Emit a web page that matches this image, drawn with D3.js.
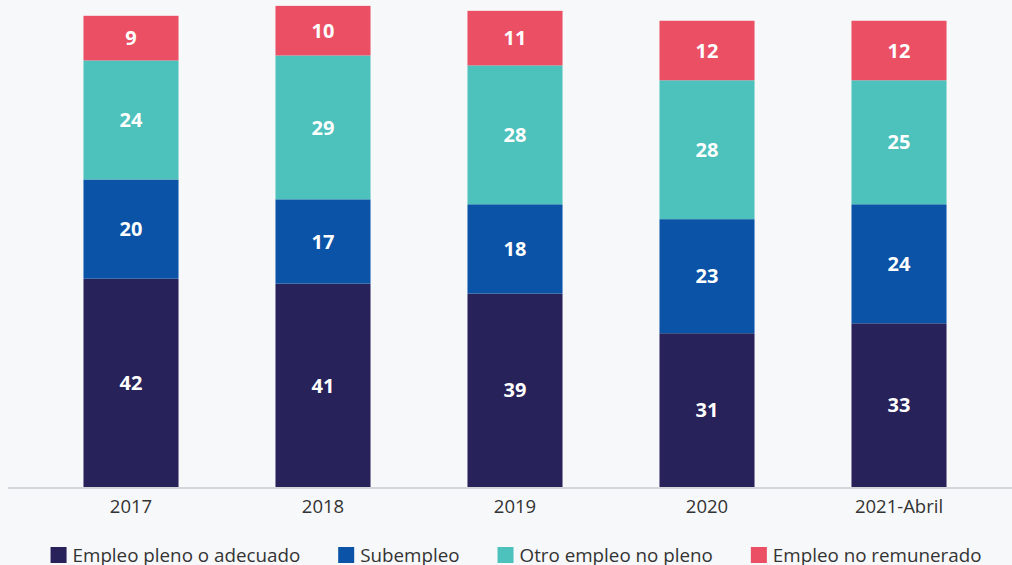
<!DOCTYPE html>
<html>
<head>
<meta charset="utf-8">
<script src="https://cdn.jsdelivr.net/npm/d3@7"></script>
<style>
  html, body { margin: 0; padding: 0; background: #f7f8fa; }
  svg { display: block; font-family: "Open Sans", "Noto Sans", sans-serif; }
</style>
</head>
<body>
<div id="chart"></div>
<script>
const categories = ["2017", "2018", "2019", "2020", "2021-Abril"];
const seriesNames = ["Empleo pleno o adecuado", "Subempleo", "Otro empleo no pleno", "Empleo no remunerado"];
const pleno = [42, 41, 39, 31, 33];
const subempleo = [20, 17, 18, 23, 24];
const otro = [24, 29, 28, 28, 25];
const noRemunerado = [9, 10, 11, 12, 12];
const colors = ["#27225a", "#0b53a6", "#4dc1bc", "#ea4f63"];

const width = 1012;
const height = 565;
const baseline = 487;

const rows = categories.map((c, i) => ({
  cat: c,
  [seriesNames[0]]: pleno[i],
  [seriesNames[1]]: subempleo[i],
  [seriesNames[2]]: otro[i],
  [seriesNames[3]]: noRemunerado[i]
}));

const stacked = d3.stack().keys(seriesNames)(rows);

const svg = d3.select("#chart")
  .append("svg")
  .attr("width", width)
  .attr("height", height);

const x = d3.scaleBand()
  .domain(categories)
  .range([35, 995])
  .paddingInner(0.505)
  .paddingOuter(0.2525);

const y = d3.scaleLinear()
  .domain([0, 100])
  .range([baseline, baseline - 496]);

const color = d3.scaleOrdinal().domain(seriesNames).range(colors);

const layers = svg.append("g")
  .selectAll("g")
  .data(stacked)
  .join("g")
  .attr("fill", d => color(d.key));

layers.selectAll("rect")
  .data(d => d)
  .join("rect")
  .attr("x", d => x(d.data.cat))
  .attr("y", d => y(d[1]))
  .attr("width", x.bandwidth())
  .attr("height", d => y(d[0]) - y(d[1]));

layers.selectAll("text")
  .data(d => d)
  .join("text")
  .attr("x", d => x(d.data.cat) + x.bandwidth() / 2)
  .attr("y", d => (y(d[0]) + y(d[1])) / 2)
  .attr("dy", "0.36em")
  .attr("text-anchor", "middle")
  .attr("fill", "#ffffff")
  .attr("font-size", 20)
  .attr("font-weight", 700)
  .text(d => d[1] - d[0]);

// x axis
const xAxis = svg.append("g")
  .attr("transform", `translate(0,${baseline + 1})`)
  .call(d3.axisBottom(x).tickSize(0).tickPadding(12));
xAxis.select(".domain").remove();
xAxis.append("line")
  .attr("x1", 8).attr("x2", width)
  .attr("stroke", "#d3d6db")
  .attr("stroke-width", 2);
xAxis.selectAll(".tick text")
  .attr("font-family", "'Open Sans', 'Noto Sans', sans-serif")
  .attr("font-size", 18.5)
  .attr("fill", "#333333");

// legend
const legend = svg.append("g").attr("transform", "translate(0,555)");
const items = legend.selectAll("g")
  .data(seriesNames)
  .join("g");
items.append("rect")
  .attr("y", -8)
  .attr("width", 16)
  .attr("height", 16)
  .attr("fill", d => color(d));
items.append("text")
  .attr("x", 22)
  .attr("dy", "0.35em")
  .attr("font-size", 18.8)
  .attr("fill", "#333333")
  .text(d => d);

let offset = 0;
const positions = [];
items.each(function() {
  const w = d3.select(this).select("text").node().getComputedTextLength();
  positions.push(offset);
  offset += 22 + w + 38;
});
const total = offset - 38;
const start = 516 - total / 2;
items.attr("transform", (d, i) => `translate(${start + positions[i]},0)`);
</script>
</body>
</html>
